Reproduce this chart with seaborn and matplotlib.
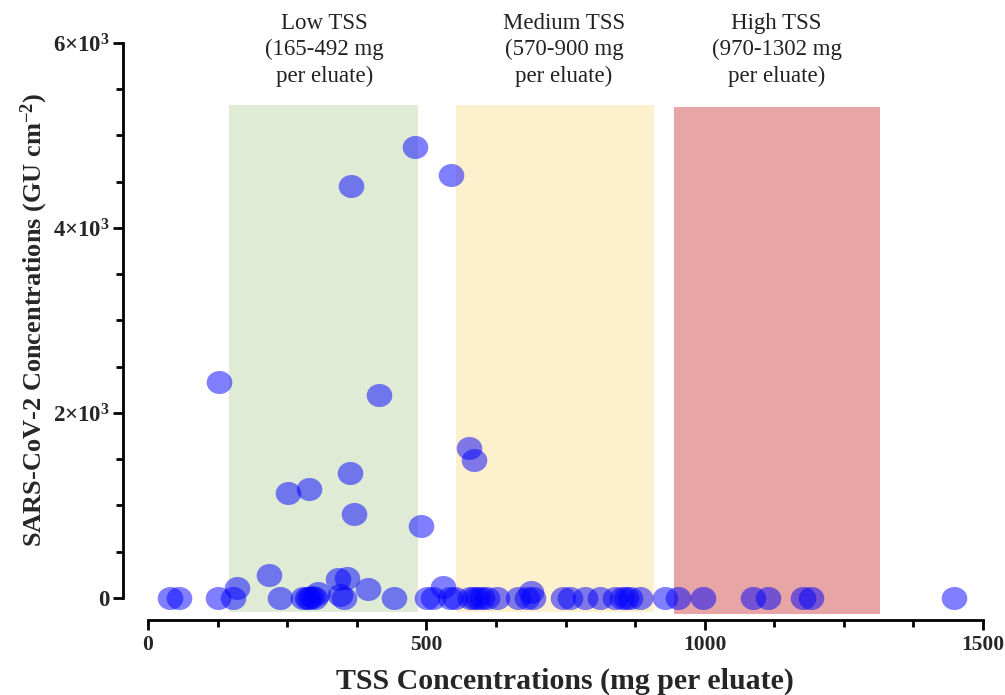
import numpy as np
import pandas as pd
import matplotlib
matplotlib.use("Agg")
import matplotlib.pyplot as plt
from matplotlib.path import Path
from matplotlib.ticker import FixedLocator
import seaborn as sns

# TSS (mg per eluate) and SARS-CoV-2 (GU cm^-2) for each sample
tss = [480, 544, 365, 128, 415, 577, 586, 363, 251, 289, 370, 490,
       40, 55, 126, 152, 160, 218, 237, 278, 285, 290, 294, 300, 306,
       341, 358, 345, 352, 395, 442, 501, 512, 530, 542, 552, 578, 586,
       592, 600, 609, 627, 665, 680, 688, 692, 746, 758, 785, 812, 838,
       851, 858, 865, 884, 929, 952, 997, 1087, 1114, 1177, 1191, 1448]
sars = [4880, 4570, 4450, 2335, 2195, 1620, 1495, 1350, 1135, 1175, 905, 775,
        0, 0, 0, 0, 110, 250, 0, 0, 0, 0, 10, 0, 50,
        205, 215, 30, 0, 100, 0, 0, 0, 120, 0, 0, 0, 0,
        0, 0, 0, 0, 0, 0, 60, 0, 0, 0, 0, 0, 0,
        0, 0, 0, 0, 0, 0, 0, 0, 0, 0, 0, 0]

# TSS bands
band_labels = ["Low TSS\n(165-492 mg\nper eluate)",
               "Medium TSS\n(570-900 mg\nper eluate)",
               "High TSS\n(970-1302 mg\nper eluate)"]
band_x0 = [145, 553, 945]
band_x1 = [485, 909, 1315]
band_top = [5330, 5330, 5310]
band_bottom = [-150, -150, -170]
band_colors = ["#dfebd5", "#fdf0cc", "#e7a5a5"]
band_label_x = [317, 747, 1129]

x_ticks = [0, 500, 1000, 1500]
y_ticks = [0, 2000, 4000, 6000]
y_tick_labels = ["0", r"$\mathbf{2{\times}10^{3}}$",
                 r"$\mathbf{4{\times}10^{3}}$", r"$\mathbf{6{\times}10^{3}}$"]

df = pd.DataFrame({"tss": tss, "sars": sars})

sns.set_theme(style="ticks")
plt.rcParams["font.family"] = ["Liberation Serif", "DejaVu Serif"]
plt.rcParams["mathtext.fontset"] = "custom"
plt.rcParams["mathtext.rm"] = "Liberation Serif"
plt.rcParams["mathtext.bf"] = "Liberation Serif:bold"
plt.rcParams["mathtext.it"] = "Liberation Serif:italic"

fig = plt.figure(figsize=(10.05, 6.95), dpi=100)
W, H = 1005, 695
ax = fig.add_axes([123 / W, 1 - 620 / H, (983 - 123) / W, (620 - 43) / H])
ax.set_xlim(-45, 1500)
ax.set_ylim(-238, 6000)

for x0, x1, yb, yt, c in zip(band_x0, band_x1, band_bottom, band_top, band_colors):
    ax.fill_between([x0, x1], yb, yt, color=c, linewidth=0, zorder=0)

for lab, lx in zip(band_labels, band_label_x):
    fig.text((148 + lx * 0.5567) / W, 1 - 50 / H, lab, ha="center", va="center",
             fontsize=16.5, linespacing=1.32, color="#222222")

# slightly flattened round marker
t = np.linspace(0, 2 * np.pi, 60)
ell = Path(np.column_stack([np.cos(t), 0.9 * np.sin(t)]))

sns.scatterplot(data=df, x="tss", y="sars", ax=ax, color="#0000ff", alpha=0.5,
                s=340, marker=ell, linewidth=0, clip_on=False, zorder=3,
                legend=False)

for s in ["top", "right"]:
    ax.spines[s].set_visible(False)
ax.spines["left"].set_bounds(0, 6000)
ax.spines["bottom"].set_bounds(0, 1500)
for s in ["left", "bottom"]:
    ax.spines[s].set_linewidth(2.0)
    ax.spines[s].set_color("black")

ax.xaxis.set_major_locator(FixedLocator(x_ticks))
ax.xaxis.set_minor_locator(FixedLocator([125, 250, 375, 625, 750, 875,
                                         1125, 1250, 1375]))
ax.yaxis.set_major_locator(FixedLocator(y_ticks))
ax.yaxis.set_minor_locator(FixedLocator([500, 1000, 1500, 2500, 3000, 3500,
                                         4500, 5000, 5500]))
ax.set_yticklabels(y_tick_labels)
ax.tick_params(which="major", length=7, width=2.0, direction="out",
               color="black", pad=4)
ax.tick_params(which="minor", length=5, width=2.0, direction="out",
               color="black")
ax.tick_params(axis="x", labelsize=15.5)
ax.tick_params(axis="y", labelsize=16.5, pad=2.5)
for lab in ax.get_xticklabels() + ax.get_yticklabels():
    lab.set_fontweight("bold")

ax.set_xlabel("TSS Concentrations (mg per eluate)", fontsize=21.5,
              fontweight="bold")
ax.xaxis.set_label_coords(0.514, -0.082)
ax.set_ylabel(r"SARS-CoV-2 Concentrations (GU cm$^{\mathbf{-2}}$)", fontsize=19,
              fontweight="bold")
ax.yaxis.set_label_coords(-0.085, 0.52)

fig.savefig("out.png", dpi=100)
